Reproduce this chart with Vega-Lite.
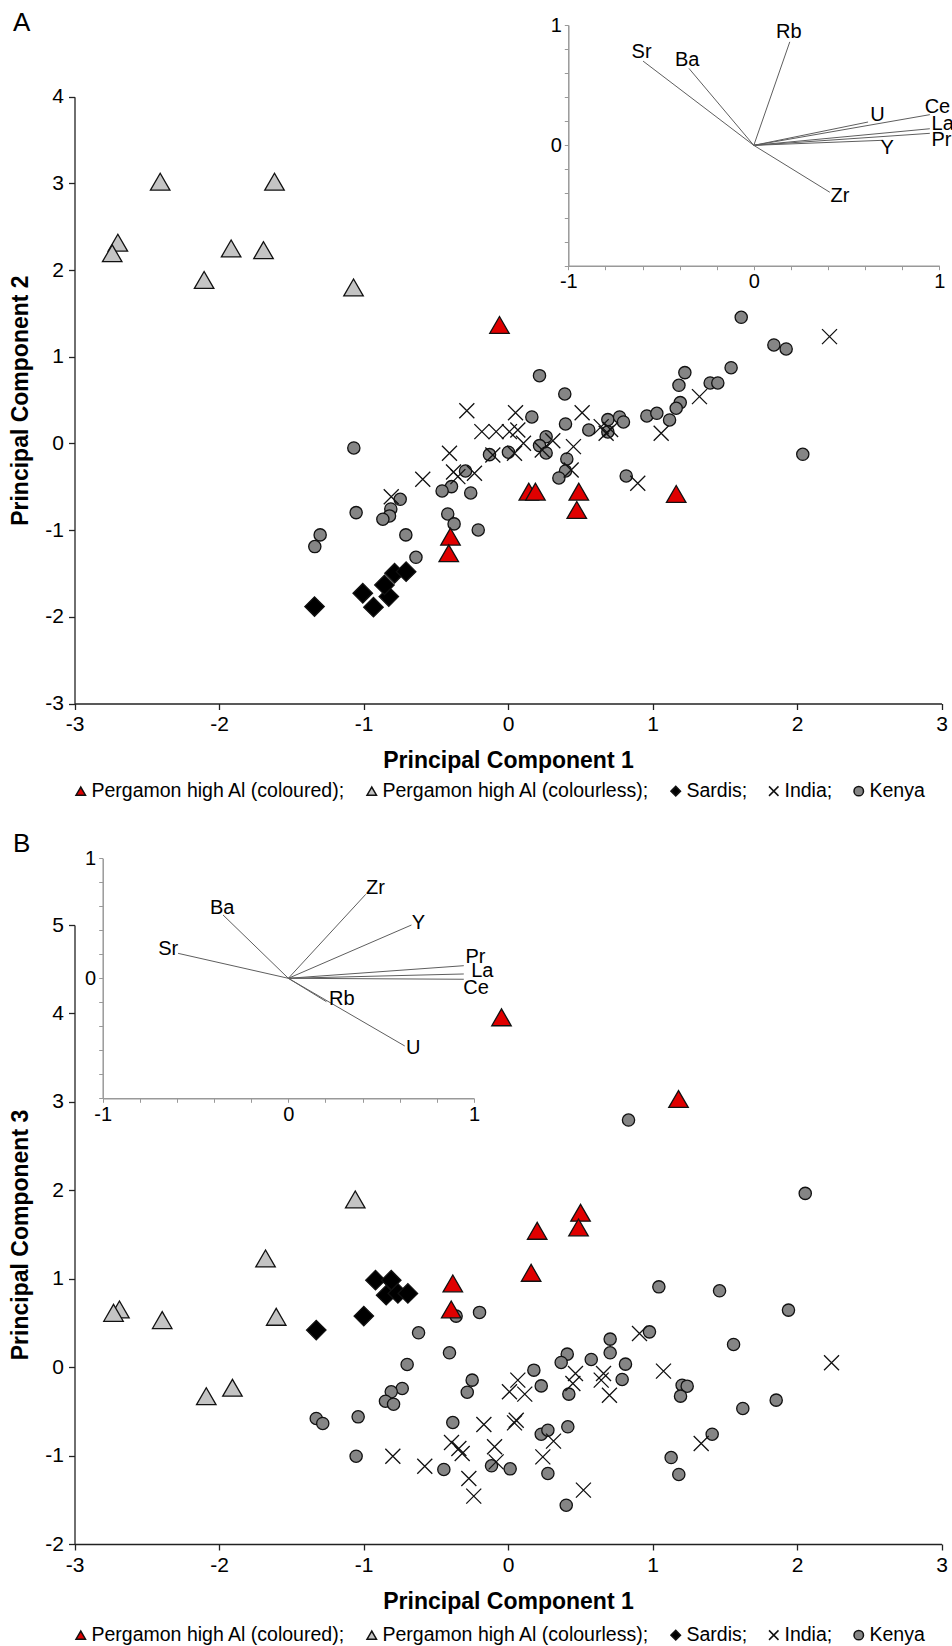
{
"$schema":"https://vega.github.io/schema/vega-lite/v6.json",
"width":952,"height":1646,"autosize":{"type":"none"},"padding":0,"background":"white",
"config":{"font":"Liberation Sans","view":{"stroke":null},
 "axis":{"grid":false,"labelColor":"#000","titleColor":"#000","labelFont":"Liberation Sans","titleFont":"Liberation Sans"},
 "legend":{"padding":0,"labelFont":"Liberation Sans","labelColor":"#000"},
 "text":{"font":"Liberation Sans","color":"#000"}},
"datasets":{
"A":[
{"g":"Kenya","pc1":0.218,"pc2":0.782},{"g":"Kenya","pc1":0.393,"pc2":0.571},{"g":"Kenya","pc1":0.165,"pc2":0.306},{"g":"Kenya","pc1":0.398,"pc2":0.225},{"g":"Kenya","pc1":0.559,"pc2":0.156},{"g":"Kenya","pc1":0.691,"pc2":0.275},{"g":"Kenya","pc1":0.772,"pc2":0.306},{"g":"Kenya","pc1":0.799,"pc2":0.248},{"g":"Kenya","pc1":0.691,"pc2":0.133},{"g":"Kenya","pc1":0.961,"pc2":0.317},{"g":"Kenya","pc1":0.264,"pc2":0.078},{"g":"Kenya","pc1":0.218,"pc2":-0.025},{"g":"Kenya","pc1":0.264,"pc2":-0.11},{"g":"Kenya","pc1":-0.128,"pc2":-0.129},{"g":"Kenya","pc1":0.003,"pc2":-0.101},{"g":"Kenya","pc1":0.407,"pc2":-0.179},{"g":"Kenya","pc1":0.398,"pc2":-0.317},{"g":"Kenya","pc1":0.352,"pc2":-0.398},{"g":"Kenya","pc1":-1.067,"pc2":-0.052},{"g":"Kenya","pc1":-0.294,"pc2":-0.317},{"g":"Kenya","pc1":-0.391,"pc2":-0.498},{"g":"Kenya","pc1":-0.456,"pc2":-0.548},{"g":"Kenya","pc1":-0.258,"pc2":-0.571},{"g":"Kenya","pc1":-0.746,"pc2":-0.644},{"g":"Kenya","pc1":-0.811,"pc2":-0.756},{"g":"Kenya","pc1":-0.82,"pc2":-0.836},{"g":"Kenya","pc1":-0.866,"pc2":-0.874},{"g":"Kenya","pc1":-1.051,"pc2":-0.798},{"g":"Kenya","pc1":-0.417,"pc2":-0.813},{"g":"Kenya","pc1":-0.373,"pc2":-0.928},{"g":"Kenya","pc1":-0.206,"pc2":-0.998},{"g":"Kenya","pc1":-0.707,"pc2":-1.055},{"g":"Kenya","pc1":-1.3,"pc2":-1.055},{"g":"Kenya","pc1":-1.337,"pc2":-1.19},{"g":"Kenya","pc1":-0.637,"pc2":-1.313},{"g":"Kenya","pc1":0.818,"pc2":-0.375},{"g":"Kenya","pc1":1.614,"pc2":1.455},{"g":"Kenya","pc1":1.84,"pc2":1.136},{"g":"Kenya","pc1":1.925,"pc2":1.09},{"g":"Kenya","pc1":1.544,"pc2":0.874},{"g":"Kenya","pc1":1.224,"pc2":0.817},{"g":"Kenya","pc1":1.183,"pc2":0.671},{"g":"Kenya","pc1":1.399,"pc2":0.698},{"g":"Kenya","pc1":1.452,"pc2":0.698},{"g":"Kenya","pc1":1.192,"pc2":0.471},{"g":"Kenya","pc1":1.164,"pc2":0.406},{"g":"Kenya","pc1":1.118,"pc2":0.271},{"g":"Kenya","pc1":1.03,"pc2":0.348},{"g":"Kenya","pc1":2.04,"pc2":-0.125},
{"g":"India","pc1":-0.285,"pc2":0.378},{"g":"India","pc1":0.052,"pc2":0.355},{"g":"India","pc1":0.513,"pc2":0.355},{"g":"India","pc1":-0.181,"pc2":0.136},{"g":"India","pc1":-0.082,"pc2":0.136},{"g":"India","pc1":0.01,"pc2":0.136},{"g":"India","pc1":0.068,"pc2":0.156},{"g":"India","pc1":0.107,"pc2":0.002},{"g":"India","pc1":0.31,"pc2":0.032},{"g":"India","pc1":0.237,"pc2":-0.075},{"g":"India","pc1":0.453,"pc2":-0.037},{"g":"India","pc1":0.645,"pc2":0.194},{"g":"India","pc1":0.679,"pc2":0.118},{"g":"India","pc1":0.71,"pc2":0.16},{"g":"India","pc1":-0.405,"pc2":-0.113},{"g":"India","pc1":-0.105,"pc2":-0.133},{"g":"India","pc1":0.045,"pc2":-0.113},{"g":"India","pc1":0.437,"pc2":-0.306},{"g":"India","pc1":-0.59,"pc2":-0.413},{"g":"India","pc1":-0.347,"pc2":-0.383},{"g":"India","pc1":-0.232,"pc2":-0.344},{"g":"India","pc1":-0.377,"pc2":-0.33},{"g":"India","pc1":-0.808,"pc2":-0.614},{"g":"India","pc1":0.898,"pc2":-0.459},{"g":"India","pc1":2.225,"pc2":1.232},{"g":"India","pc1":1.325,"pc2":0.54},{"g":"India","pc1":1.06,"pc2":0.118},
{"g":"Sardis","pc1":-1.339,"pc2":-1.882},{"g":"Sardis","pc1":-1.005,"pc2":-1.728},{"g":"Sardis","pc1":-0.931,"pc2":-1.889},{"g":"Sardis","pc1":-0.825,"pc2":-1.767},{"g":"Sardis","pc1":-0.855,"pc2":-1.632},{"g":"Sardis","pc1":-0.785,"pc2":-1.497},{"g":"Sardis","pc1":-0.705,"pc2":-1.479},
{"g":"Pergamon high Al (colourless)","pc1":-2.407,"pc2":3.02},{"g":"Pergamon high Al (colourless)","pc1":-1.616,"pc2":3.02},{"g":"Pergamon high Al (colourless)","pc1":-2.7,"pc2":2.316},{"g":"Pergamon high Al (colourless)","pc1":-2.739,"pc2":2.194},{"g":"Pergamon high Al (colourless)","pc1":-1.916,"pc2":2.25},{"g":"Pergamon high Al (colourless)","pc1":-1.692,"pc2":2.23},{"g":"Pergamon high Al (colourless)","pc1":-2.103,"pc2":1.886},{"g":"Pergamon high Al (colourless)","pc1":-1.069,"pc2":1.8},
{"g":"Pergamon high Al (coloured)","pc1":-0.059,"pc2":1.367},{"g":"Pergamon high Al (coloured)","pc1":0.144,"pc2":-0.556},{"g":"Pergamon high Al (coloured)","pc1":0.19,"pc2":-0.556},{"g":"Pergamon high Al (coloured)","pc1":0.49,"pc2":-0.556},{"g":"Pergamon high Al (coloured)","pc1":0.476,"pc2":-0.767},{"g":"Pergamon high Al (coloured)","pc1":-0.398,"pc2":-1.075},{"g":"Pergamon high Al (coloured)","pc1":-0.41,"pc2":-1.267},{"g":"Pergamon high Al (coloured)","pc1":1.164,"pc2":-0.583}
],
"B":[
{"g":"Kenya","pc1":1.044,"pc3":0.908},{"g":"Kenya","pc1":1.464,"pc3":0.863},{"g":"Kenya","pc1":-0.197,"pc3":0.619},{"g":"Kenya","pc1":-0.359,"pc3":0.577},{"g":"Kenya","pc1":-0.619,"pc3":0.388},{"g":"Kenya","pc1":-0.405,"pc3":0.162},{"g":"Kenya","pc1":0.707,"pc3":0.317},{"g":"Kenya","pc1":0.707,"pc3":0.162},{"g":"Kenya","pc1":0.41,"pc3":0.147},{"g":"Kenya","pc1":0.368,"pc3":0.053},{"g":"Kenya","pc1":0.576,"pc3":0.087},{"g":"Kenya","pc1":0.179,"pc3":-0.034},{"g":"Kenya","pc1":0.23,"pc3":-0.212},{"g":"Kenya","pc1":0.421,"pc3":-0.305},{"g":"Kenya","pc1":-0.698,"pc3":0.03},{"g":"Kenya","pc1":-0.248,"pc3":-0.147},{"g":"Kenya","pc1":-0.282,"pc3":-0.283},{"g":"Kenya","pc1":-0.732,"pc3":-0.241},{"g":"Kenya","pc1":-0.808,"pc3":-0.279},{"g":"Kenya","pc1":-0.848,"pc3":-0.385},{"g":"Kenya","pc1":-0.792,"pc3":-0.419},{"g":"Kenya","pc1":-1.327,"pc3":-0.58},{"g":"Kenya","pc1":-1.282,"pc3":-0.637},{"g":"Kenya","pc1":-1.037,"pc3":-0.562},{"g":"Kenya","pc1":-0.382,"pc3":-0.626},{"g":"Kenya","pc1":0.23,"pc3":-0.758},{"g":"Kenya","pc1":0.276,"pc3":-0.713},{"g":"Kenya","pc1":0.414,"pc3":-0.675},{"g":"Kenya","pc1":-1.051,"pc3":-1.007},{"g":"Kenya","pc1":-0.444,"pc3":-1.157},{"g":"Kenya","pc1":-0.114,"pc3":-1.116},{"g":"Kenya","pc1":0.015,"pc3":-1.15},{"g":"Kenya","pc1":0.276,"pc3":-1.202},{"g":"Kenya","pc1":0.403,"pc3":-1.561},{"g":"Kenya","pc1":0.834,"pc3":2.794},{"g":"Kenya","pc1":2.057,"pc3":1.965},{"g":"Kenya","pc1":1.941,"pc3":0.645},{"g":"Kenya","pc1":0.979,"pc3":0.399},{"g":"Kenya","pc1":1.561,"pc3":0.257},{"g":"Kenya","pc1":0.813,"pc3":0.034},{"g":"Kenya","pc1":0.79,"pc3":-0.139},{"g":"Kenya","pc1":1.205,"pc3":-0.204},{"g":"Kenya","pc1":1.24,"pc3":-0.215},{"g":"Kenya","pc1":1.194,"pc3":-0.328},{"g":"Kenya","pc1":1.856,"pc3":-0.373},{"g":"Kenya","pc1":1.625,"pc3":-0.467},{"g":"Kenya","pc1":1.413,"pc3":-0.758},{"g":"Kenya","pc1":1.129,"pc3":-1.022},{"g":"Kenya","pc1":1.182,"pc3":-1.214},
{"g":"India","pc1":0.91,"pc3":0.381},{"g":"India","pc1":1.076,"pc3":-0.045},{"g":"India","pc1":0.467,"pc3":-0.071},{"g":"India","pc1":0.449,"pc3":-0.185},{"g":"India","pc1":0.661,"pc3":-0.071},{"g":"India","pc1":0.645,"pc3":-0.147},{"g":"India","pc1":0.702,"pc3":-0.317},{"g":"India","pc1":0.068,"pc3":-0.147},{"g":"India","pc1":0.01,"pc3":-0.279},{"g":"India","pc1":0.116,"pc3":-0.305},{"g":"India","pc1":-0.167,"pc3":-0.648},{"g":"India","pc1":0.045,"pc3":-0.63},{"g":"India","pc1":0.057,"pc3":-0.6},{"g":"India","pc1":-0.391,"pc3":-0.852},{"g":"India","pc1":-0.34,"pc3":-0.92},{"g":"India","pc1":-0.317,"pc3":-0.977},{"g":"India","pc1":-0.093,"pc3":-0.901},{"g":"India","pc1":-0.082,"pc3":-1.071},{"g":"India","pc1":0.241,"pc3":-1.015},{"g":"India","pc1":0.315,"pc3":-0.837},{"g":"India","pc1":-0.797,"pc3":-1.007},{"g":"India","pc1":-0.576,"pc3":-1.12},{"g":"India","pc1":-0.271,"pc3":-1.259},{"g":"India","pc1":-0.237,"pc3":-1.459},{"g":"India","pc1":0.522,"pc3":-1.391},{"g":"India","pc1":1.337,"pc3":-0.863},{"g":"India","pc1":2.239,"pc3":0.049},
{"g":"Sardis","pc1":-1.327,"pc3":0.419},{"g":"Sardis","pc1":-0.998,"pc3":0.577},{"g":"Sardis","pc1":-0.917,"pc3":0.984},{"g":"Sardis","pc1":-0.808,"pc3":0.984},{"g":"Sardis","pc1":-0.843,"pc3":0.814},{"g":"Sardis","pc1":-0.762,"pc3":0.834},{"g":"Sardis","pc1":-0.693,"pc3":0.834},
{"g":"Pergamon high Al (colourless)","pc1":-1.057,"pc3":1.897},{"g":"Pergamon high Al (colourless)","pc1":-1.678,"pc3":1.229},{"g":"Pergamon high Al (colourless)","pc1":-2.689,"pc3":0.652},{"g":"Pergamon high Al (colourless)","pc1":-2.73,"pc3":0.614},{"g":"Pergamon high Al (colourless)","pc1":-2.393,"pc3":0.532},{"g":"Pergamon high Al (colourless)","pc1":-1.604,"pc3":0.569},{"g":"Pergamon high Al (colourless)","pc1":-2.088,"pc3":-0.328},{"g":"Pergamon high Al (colourless)","pc1":-1.907,"pc3":-0.233},
{"g":"Pergamon high Al (coloured)","pc1":-0.045,"pc3":3.956},{"g":"Pergamon high Al (coloured)","pc1":1.18,"pc3":3.032},{"g":"Pergamon high Al (coloured)","pc1":0.502,"pc3":1.746},{"g":"Pergamon high Al (coloured)","pc1":0.488,"pc3":1.58},{"g":"Pergamon high Al (coloured)","pc1":0.202,"pc3":1.542},{"g":"Pergamon high Al (coloured)","pc1":0.16,"pc3":1.067},{"g":"Pergamon high Al (coloured)","pc1":-0.382,"pc3":0.947},{"g":"Pergamon high Al (coloured)","pc1":-0.393,"pc3":0.653}
],
"loadA":[
{"el":"Sr","ox":0,"oy":0,"px":-0.597,"py":0.7,"lx":-0.605,"ly":0.776},
{"el":"Ba","ox":0,"oy":0,"px":-0.35,"py":0.64,"lx":-0.359,"ly":0.707},
{"el":"Rb","ox":0,"oy":0,"px":0.194,"py":0.86,"lx":0.189,"ly":0.939},
{"el":"U","ox":0,"oy":0,"px":0.616,"py":0.194,"lx":0.667,"ly":0.249},
{"el":"Ce","ox":0,"oy":0,"px":0.949,"py":0.255,"lx":0.99,"ly":0.318},
{"el":"La","ox":0,"oy":0,"px":0.949,"py":0.138,"lx":1.018,"ly":0.18},
{"el":"Pr","ox":0,"oy":0,"px":0.949,"py":0.1,"lx":1.012,"ly":0.047},
{"el":"Y","ox":0,"oy":0,"px":0.697,"py":0.042,"lx":0.719,"ly":-0.022},
{"el":"Zr","ox":0,"oy":0,"px":0.41,"py":-0.39,"lx":0.464,"ly":-0.424}
],
"loadB":[
{"el":"Sr","ox":0,"oy":0,"px":-0.594,"py":0.208,"lx":-0.647,"ly":0.242},
{"el":"Ba","ox":0,"oy":0,"px":-0.352,"py":0.528,"lx":-0.356,"ly":0.583},
{"el":"Zr","ox":0,"oy":0,"px":0.417,"py":0.7,"lx":0.469,"ly":0.75},
{"el":"Y","ox":0,"oy":0,"px":0.663,"py":0.444,"lx":0.7,"ly":0.458},
{"el":"Pr","ox":0,"oy":0,"px":0.945,"py":0.105,"lx":1.008,"ly":0.175},
{"el":"La","ox":0,"oy":0,"px":0.945,"py":0.036,"lx":1.045,"ly":0.061},
{"el":"Ce","ox":0,"oy":0,"px":0.945,"py":-0.008,"lx":1.011,"ly":-0.078},
{"el":"Rb","ox":0,"oy":0,"px":0.205,"py":-0.195,"lx":0.288,"ly":-0.175},
{"el":"U","ox":0,"oy":0,"px":0.627,"py":-0.564,"lx":0.672,"ly":-0.583}
],
"letters":[{"t":"A","x":-3.365,"y":4.848,"panel":"A"},{"t":"B","x":-3.365,"y":5.916,"panel":"B"}]
},
"layer":[
{"data":{"name":"A"},
 "mark":{"type":"point","filled":true,"opacity":1,"stroke":"#111","strokeWidth":1.3},
 "encoding":{
  "x":{"field":"pc1","type":"quantitative","scale":{"domain":[-3,3],"range":[74.5,941.5],"nice":false,"zero":false},
   "axis":{"orient":"bottom","offset":-942.5,"values":[-3,-2,-1,0,1,2,3],"labelExpr":"'' + datum.value","title":"Principal Component 1","titleFontSize":23,"titleFontWeight":"bold","titlePadding":15,"labelFontSize":21,"labelPadding":4,"tickSize":6,"domainColor":"#222","tickColor":"#222","domainWidth":1.3,"tickWidth":1.3,"labelFlush":false,"labelOverlap":false}},
  "y":{"field":"pc2","type":"quantitative","scale":{"domain":[-3,4],"range":[703.5,96.7],"nice":false,"zero":false},
   "axis":{"orient":"left","offset":-74.5,"values":[-3,-2,-1,0,1,2,3,4],"labelExpr":"'' + datum.value","title":"Principal Component 2","titleFontSize":23,"titleFontWeight":"bold","titlePadding":12,"labelFontSize":21,"labelPadding":5,"tickSize":6,"domainColor":"#222","tickColor":"#222","domainWidth":1.3,"tickWidth":1.3,"labelFlush":false,"labelOverlap":false}},
  "shape":{"field":"g","type":"nominal","scale":{"domain":["Pergamon high Al (coloured)","Pergamon high Al (colourless)","Sardis","India","Kenya"],"range":["triangle-up","triangle-up","diamond","M-1,-1L1,1M-1,1L1,-1","circle"]},
   "legend":{"title":null,"orient":"none","legendX":71,"legendY":781,"direction":"horizontal","labelFontSize":19.5,"labelLimit":600,"symbolSize":90,"columnPadding":16,"labelOffset":1,"labelExpr":"datum.label == 'Kenya' ? datum.label : datum.label + ';'"}},
  "fill":{"field":"g","type":"nominal","scale":{"domain":["Pergamon high Al (coloured)","Pergamon high Al (colourless)","Sardis","India","Kenya"],"range":["#e00000","#c4c4c4","#000000","#000000","#858585"]},
   "legend":{"title":null,"orient":"none","legendX":71,"legendY":781,"direction":"horizontal","labelFontSize":19.5,"labelLimit":600,"symbolSize":90,"columnPadding":16,"labelOffset":1,"labelExpr":"datum.label == 'Kenya' ? datum.label : datum.label + ';'"}},
  "size":{"field":"g","type":"nominal","scale":{"type":"ordinal","domain":["Kenya","India","Sardis","Pergamon high Al (colourless)","Pergamon high Al (coloured)"],"range":[150,225,380,380,380]},"legend":null}
 }},
{"data":{"name":"letters"},"transform":[{"filter":"datum.panel == 'A'"}],
 "mark":{"type":"text","fontSize":26},
 "encoding":{"x":{"field":"x","type":"quantitative","scale":{"domain":[-3,3],"range":[74.5,941.5],"nice":false,"zero":false},"axis":null},
  "y":{"field":"y","type":"quantitative","scale":{"domain":[-3,4],"range":[703.5,96.7],"nice":false,"zero":false},"axis":null},
  "text":{"field":"t"}}},
{"data":{"name":"loadA"},
 "mark":{"type":"rule","stroke":"#5e5e5e","strokeWidth":1},
 "encoding":{
  "x":{"field":"ox","type":"quantitative","scale":{"domain":[-1,1],"range":[568.3,939.3],"nice":false,"zero":false},
   "axis":{"orient":"bottom","offset":-1380.3,"values":[-1,-0.8,-0.6,-0.4,-0.2,0,0.2,0.4,0.6,0.8,1],"labelExpr":"datum.value == 0 ? '0' : datum.value == 1 ? '1' : datum.value == -1 ? '-1' : ''","title":null,"domainColor":"#999","tickColor":"#999","domainWidth":1.5,"tickSize":4,"labelFontSize":20,"labelPadding":2,"labelFlush":false,"labelOverlap":false}},
  "y":{"field":"oy","type":"quantitative","scale":{"domain":[-1,1],"range":[265.7,25],"nice":false,"zero":false},
   "axis":{"orient":"left","offset":-568.3,"values":[-1,-0.8,-0.6,-0.4,-0.2,0,0.2,0.4,0.6,0.8,1],"labelExpr":"datum.value == 0 ? '0' : datum.value == 1 ? '1' : ''","title":null,"domainColor":"#999","tickColor":"#999","domainWidth":1.5,"tickSize":4,"labelFontSize":20,"labelPadding":3,"labelFlush":false,"labelOverlap":false}},
  "x2":{"field":"px"},"y2":{"field":"py"}
 }},
{"data":{"name":"loadA"},
 "mark":{"type":"text","fontSize":20},
 "encoding":{"x":{"field":"lx","type":"quantitative","scale":{"domain":[-1,1],"range":[568.3,939.3],"nice":false,"zero":false},"axis":null},
  "y":{"field":"ly","type":"quantitative","scale":{"domain":[-1,1],"range":[265.7,25],"nice":false,"zero":false},"axis":null},
  "text":{"field":"el"}}},
{"data":{"name":"B"},
 "mark":{"type":"point","filled":true,"opacity":1,"stroke":"#111","strokeWidth":1.3},
 "encoding":{
  "x":{"field":"pc1","type":"quantitative","scale":{"domain":[-3,3],"range":[74.5,941.5],"nice":false,"zero":false},
   "axis":{"orient":"bottom","offset":-102,"values":[-3,-2,-1,0,1,2,3],"labelExpr":"'' + datum.value","title":"Principal Component 1","titleFontSize":23,"titleFontWeight":"bold","titlePadding":15,"labelFontSize":21,"labelPadding":4,"tickSize":6,"domainColor":"#222","tickColor":"#222","domainWidth":1.3,"tickWidth":1.3,"labelFlush":false,"labelOverlap":false}},
  "y":{"field":"pc3","type":"quantitative","scale":{"domain":[-2,5],"range":[1544,925],"nice":false,"zero":false},
   "axis":{"orient":"left","offset":-74.5,"values":[-2,-1,0,1,2,3,4,5],"labelExpr":"'' + datum.value","title":"Principal Component 3","titleFontSize":23,"titleFontWeight":"bold","titlePadding":12,"labelFontSize":21,"labelPadding":5,"tickSize":6,"domainColor":"#222","tickColor":"#222","domainWidth":1.3,"tickWidth":1.3,"labelFlush":false,"labelOverlap":false}},
  "shape":{"field":"g","type":"nominal","scale":{"domain":["Pergamon high Al (coloured)","Pergamon high Al (colourless)","Sardis","India","Kenya"],"range":["triangle-up","triangle-up","diamond","M-1,-1L1,1M-1,1L1,-1","circle"]},
   "legend":{"title":null,"orient":"none","legendX":71,"legendY":1625,"direction":"horizontal","labelFontSize":19.5,"labelLimit":600,"symbolSize":90,"columnPadding":16,"labelOffset":1,"labelExpr":"datum.label == 'Kenya' ? datum.label : datum.label + ';'"}},
  "fill":{"field":"g","type":"nominal","scale":{"domain":["Pergamon high Al (coloured)","Pergamon high Al (colourless)","Sardis","India","Kenya"],"range":["#e00000","#c4c4c4","#000000","#000000","#858585"]},
   "legend":{"title":null,"orient":"none","legendX":71,"legendY":1625,"direction":"horizontal","labelFontSize":19.5,"labelLimit":600,"symbolSize":90,"columnPadding":16,"labelOffset":1,"labelExpr":"datum.label == 'Kenya' ? datum.label : datum.label + ';'"}},
  "size":{"field":"g","type":"nominal","scale":{"type":"ordinal","domain":["Kenya","India","Sardis","Pergamon high Al (colourless)","Pergamon high Al (coloured)"],"range":[150,225,380,380,380]},"legend":null}
 }},
{"data":{"name":"letters"},"transform":[{"filter":"datum.panel == 'B'"}],
 "mark":{"type":"text","fontSize":26},
 "encoding":{"x":{"field":"x","type":"quantitative","scale":{"domain":[-3,3],"range":[74.5,941.5],"nice":false,"zero":false},"axis":null},
  "y":{"field":"y","type":"quantitative","scale":{"domain":[-2,5],"range":[1544,925],"nice":false,"zero":false},"axis":null},
  "text":{"field":"t"}}},
{"data":{"name":"loadB"},
 "mark":{"type":"rule","stroke":"#5e5e5e","strokeWidth":1},
 "encoding":{
  "x":{"field":"ox","type":"quantitative","scale":{"domain":[-1,1],"range":[102.7,474],"nice":false,"zero":false},
   "axis":{"orient":"bottom","offset":-547.7,"values":[-1,-0.8,-0.6,-0.4,-0.2,0,0.2,0.4,0.6,0.8,1],"labelExpr":"datum.value == 0 ? '0' : datum.value == 1 ? '1' : datum.value == -1 ? '-1' : ''","title":null,"domainColor":"#999","tickColor":"#999","domainWidth":1.5,"tickSize":4,"labelFontSize":20,"labelPadding":2,"labelFlush":false,"labelOverlap":false}},
  "y":{"field":"oy","type":"quantitative","scale":{"domain":[-1,1],"range":[1098.3,858.3],"nice":false,"zero":false},
   "axis":{"orient":"left","offset":-102.7,"values":[-1,-0.8,-0.6,-0.4,-0.2,0,0.2,0.4,0.6,0.8,1],"labelExpr":"datum.value == 0 ? '0' : datum.value == 1 ? '1' : ''","title":null,"domainColor":"#999","tickColor":"#999","domainWidth":1.5,"tickSize":4,"labelFontSize":20,"labelPadding":3,"labelFlush":false,"labelOverlap":false}},
  "x2":{"field":"px"},"y2":{"field":"py"}
 }},
{"data":{"name":"loadB"},
 "mark":{"type":"text","fontSize":20},
 "encoding":{"x":{"field":"lx","type":"quantitative","scale":{"domain":[-1,1],"range":[102.7,474],"nice":false,"zero":false},"axis":null},
  "y":{"field":"ly","type":"quantitative","scale":{"domain":[-1,1],"range":[1098.3,858.3],"nice":false,"zero":false},"axis":null},
  "text":{"field":"el"}}}
],
"resolve":{"scale":{"x":"independent","y":"independent","shape":"independent","fill":"independent","size":"independent"},"axis":{"x":"independent","y":"independent"},"legend":{"shape":"independent","fill":"independent"}}
}
